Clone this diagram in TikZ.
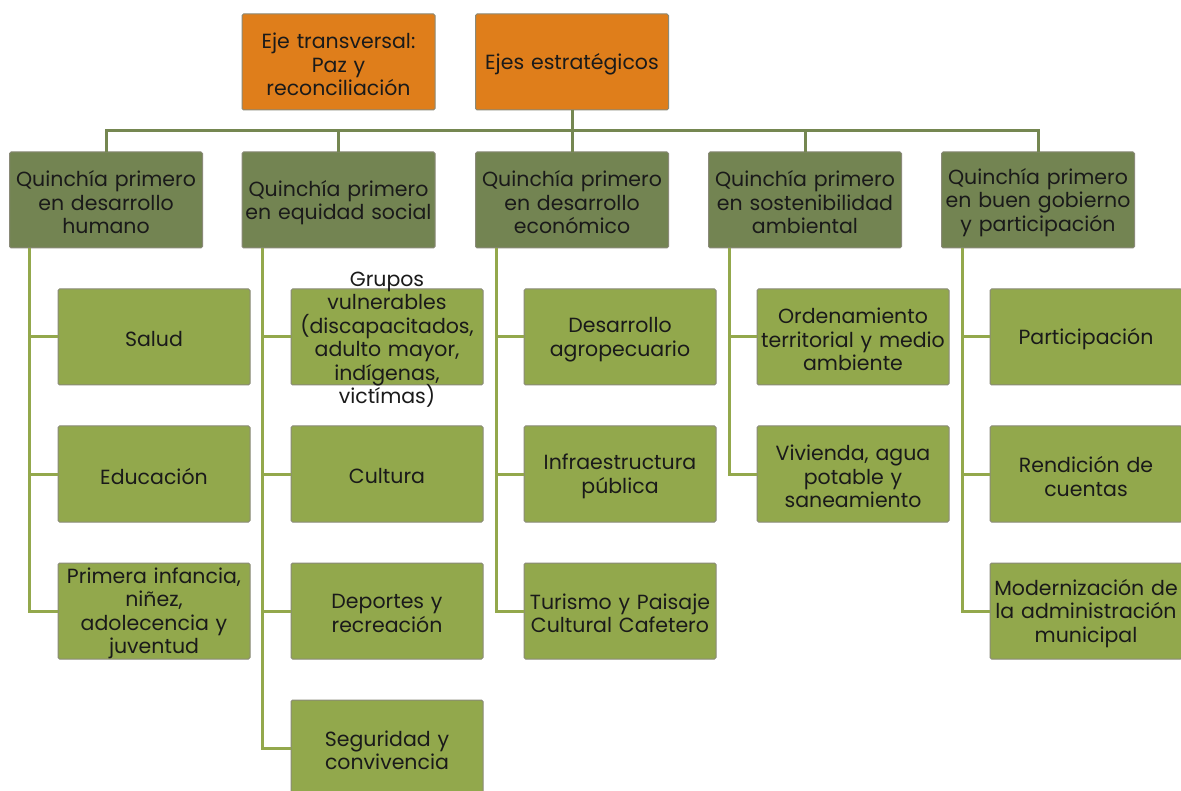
\documentclass[tikz,border=0pt]{standalone}
\usepackage{fontspec}
\setmainfont{Poppins}
\definecolor{orangefill}{HTML}{DF7E1B}
\definecolor{headfill}{HTML}{738452}
\definecolor{leaffill}{HTML}{92A84C}
\definecolor{boxline}{HTML}{8A8A78}
\definecolor{topline}{HTML}{758751}
\definecolor{leafline}{HTML}{93A84C}
\definecolor{txt}{HTML}{1A1A1A}
\tikzset{
  base/.style={rectangle, rounded corners=1.5pt, draw=boxline, line width=1pt,
    minimum width=193pt, minimum height=96pt, inner sep=0pt, outer sep=0pt},
  topbox/.style={base, fill=orangefill},
  headbox/.style={base, fill=headfill},
  leafbox/.style={base, fill=leaffill, minimum width=192pt},
  lbl/.style={inner sep=0pt, outer sep=0pt, text width=190pt, align=center, text=txt,
    yshift=-2.5pt,
    font={\fontsize{20.5}{23.5}\selectfont\lineskiplimit=-100pt}},
  topconn/.style={draw=topline, line width=3pt},
  leafconn/.style={draw=leafline, line width=3pt}
}
\begin{document}
\begin{tikzpicture}[x=1pt,y=-1pt]
\useasboundingbox[fill=white] (0,0) rectangle (1181,791);
% top level
\node[topbox, label={[lbl]center:{Eje transversal:\\Paz y\\reconciliación}}] (trans) at (338.5,62) {};
\node[topbox, label={[lbl]center:{Ejes estratégicos}}] (ejes) at (572,62) {};
% headers
\node[headbox, label={[lbl]center:{Quinchía primero\\en desarrollo\\humano}}] (h1) at (106,200) {};
\node[headbox, label={[lbl]center:{Quinchía primero\\en equidad social}}] (h2) at (338.5,200) {};
\node[headbox, label={[lbl]center:{Quinchía primero\\en desarrollo\\económico}}] (h3) at (572,200) {};
\node[headbox, label={[lbl]center:{Quinchía primero\\en sostenibilidad\\ambiental}}] (h4) at (805,200) {};
\node[headbox, label={[lbl]center:{Quinchía primero\\en buen gobierno\\y participación}}] (h5) at (1038,200) {};
\coordinate (bus) at (572,131);
\draw[topconn] (ejes.south) -- (bus);
\draw[topconn] (h1.north) |- (bus);
\draw[topconn] (h5.north) |- (bus);
\draw[topconn] (h2.north) -- (h2.north |- bus);
\draw[topconn] (h3.north) -- (h3.north |- bus);
\draw[topconn] (h4.north) -- (h4.north |- bus);
% column 1
\node[leafbox, label={[lbl]center:{Salud}}] (l11) at (154,337) {};
\node[leafbox, label={[lbl]center:{Educación}}] (l12) at (154,474) {};
\node[leafbox, label={[lbl]center:{Primera infancia,\\niñez,\\adolecencia y\\juventud}}] (l13) at (154,611) {};
% column 2
\node[leafbox, label={[lbl]center:{Grupos\\vulnerables\\(discapacitados,\\adulto mayor,\\indígenas,\\victímas)}}] (l21) at (387,337) {};
\node[leafbox, label={[lbl]center:{Cultura}}] (l22) at (387,474) {};
\node[leafbox, label={[lbl]center:{Deportes y\\recreación}}] (l23) at (387,611) {};
\node[leafbox, label={[lbl]center:{Seguridad y\\convivencia}}] (l24) at (387,748) {};
% column 3
\node[leafbox, label={[lbl]center:{Desarrollo\\agropecuario}}] (l31) at (620,337) {};
\node[leafbox, label={[lbl]center:{Infraestructura\\pública}}] (l32) at (620,474) {};
\node[leafbox, label={[lbl]center:{Turismo y Paisaje\\Cultural Cafetero}}] (l33) at (620,611) {};
% column 4
\node[leafbox, label={[lbl]center:{Ordenamiento\\territorial y medio\\ambiente}}] (l41) at (853,337) {};
\node[leafbox, label={[lbl]center:{Vivienda, agua\\potable y\\saneamiento}}] (l42) at (853,474) {};
% column 5
\node[leafbox, label={[lbl]center:{Participación}}] (l51) at (1086,337) {};
\node[leafbox, label={[lbl]center:{Rendición de\\cuentas}}] (l52) at (1086,474) {};
\node[leafbox, label={[lbl]center:{Modernización~de\\la administración\\municipal}}] (l53) at (1086,611) {};
% connectors
\foreach \x/\leaves in {29/{l11,l12,l13}, 262/{l21,l22,l23,l24}, 496/{l31,l32,l33}, 729/{l41,l42}, 962/{l51,l52,l53}}{
  \foreach \l in \leaves {
    \draw[leafconn] (\x,248) |- (\l.west);
  }
}
\end{tikzpicture}
\end{document}
